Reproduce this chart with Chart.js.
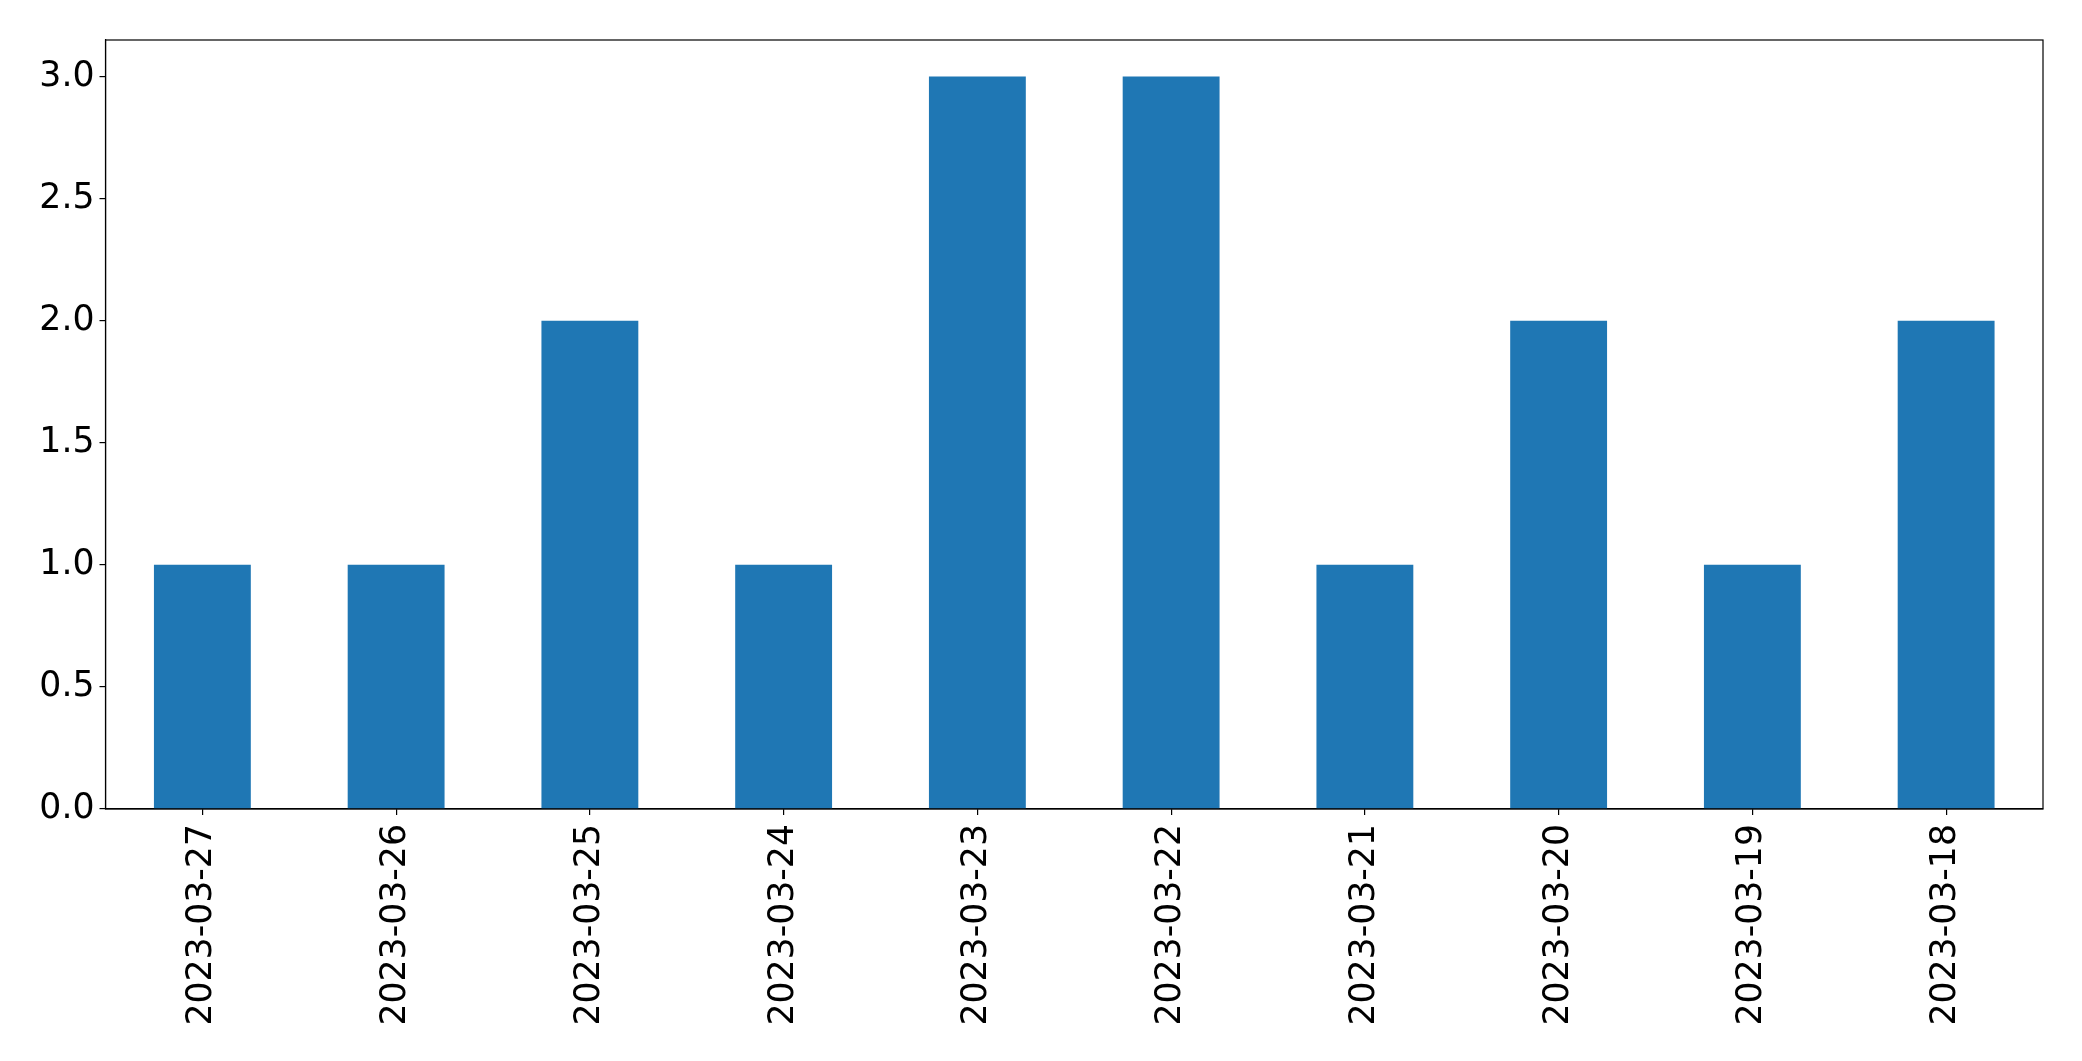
<!DOCTYPE html>
<html>
<head>
<meta charset="utf-8">
<script src="https://cdn.jsdelivr.net/npm/chart.js@4/dist/chart.umd.min.js"></script>
<style>
    html, body { margin: 0; padding: 0; background: #fff; }
    #wrap { width: 2082px; height: 1061px; }
</style>
</head>
<body>
<div id="wrap"><canvas id="barChart" width="2082" height="1061"></canvas></div>
<script>
const dates = ['2023-03-27', '2023-03-26', '2023-03-25', '2023-03-24', '2023-03-23',
               '2023-03-22', '2023-03-21', '2023-03-20', '2023-03-19', '2023-03-18'];
const counts = [1, 1, 2, 1, 3, 3, 1, 2, 1, 2];

const yMin = 0;
const yMax = 3.15;
const yStep = 0.5;

// frame round the plot area, like the matplotlib axes box
const framePlugin = {
    id: 'frame',
    afterDraw(chart) {
        const a = chart.chartArea;
        const ctx = chart.ctx;
        ctx.save();
        ctx.strokeStyle = '#000';
        ctx.lineWidth = 1.2;
        ctx.strokeRect(a.left, a.top, a.right - a.left, a.bottom - a.top);
        ctx.restore();
    }
};

const tickFont = { family: "'DejaVu Sans', sans-serif", size: 34.7 };

new Chart(document.getElementById('barChart').getContext('2d'), {
    type: 'bar',
    data: {
        labels: dates,
        datasets: [{
            data: counts,
            backgroundColor: '#1f77b4',
            borderWidth: 0,
            barPercentage: 0.5,
            categoryPercentage: 1.0
        }]
    },
    options: {
        responsive: false,
        animation: false,
        layout: { padding: { top: 40, right: 39, left: 0, bottom: 0 } },
        plugins: {
            legend: { display: false },
            tooltip: { enabled: false }
        },
        scales: {
            x: {
                offset: true,
                grid: { offset: false, drawOnChartArea: false, drawTicks: true, tickLength: 6, color: '#000', lineWidth: 1.2 },
                border: { display: true, color: '#000', width: 1.2 },
                ticks: {
                    font: tickFont,
                    color: '#000',
                    minRotation: 90,
                    maxRotation: 90,
                    autoSkip: false,
                    padding: 9
                },
                afterFit(scale) { scale.height = 252; }
            },
            y: {
                min: yMin,
                max: yMax,
                grid: { drawOnChartArea: false, drawTicks: true, tickLength: 6, color: '#000', lineWidth: 1.2 },
                border: { display: true, color: '#000', width: 1.2 },
                ticks: {
                    stepSize: yStep,
                    includeBounds: false,
                    font: tickFont,
                    color: '#000',
                    padding: 5,
                    callback: v => Number(v).toFixed(1)
                },
                afterFit(scale) { scale.width = 105.5; }
            }
        }
    },
    plugins: [framePlugin]
});
</script>
</body>
</html>
